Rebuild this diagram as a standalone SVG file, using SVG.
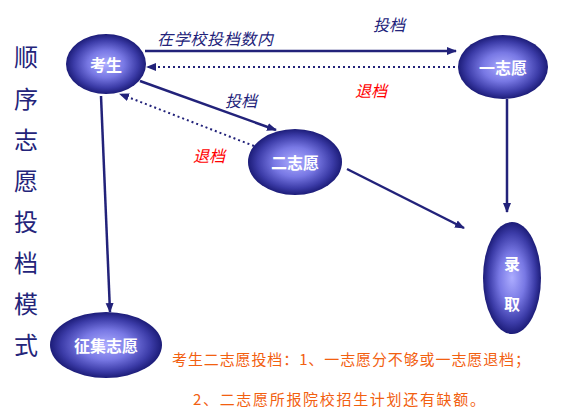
<svg xmlns="http://www.w3.org/2000/svg" width="561" height="417" viewBox="0 0 561 417">
<defs>
<radialGradient id="g" cx="50%" cy="50%" r="50%">
<stop offset="0" stop-color="#acacff"/>
<stop offset="0.45" stop-color="#7878e4"/>
<stop offset="0.8" stop-color="#3c3ca8"/>
<stop offset="1" stop-color="#1c1c78"/>
</radialGradient>
<marker id="ah" viewBox="0 0 10 10" refX="9" refY="5" markerWidth="10" markerHeight="10" markerUnits="userSpaceOnUse" orient="auto">
<path d="M0,1 L10,5 L0,9 Z" fill="#22227a"/>
</marker>
</defs>
<style>
.node{fill:url(#g);}
.nt{fill:#ffffff;font-family:"Noto Sans CJK SC","Noto Sans",sans-serif;font-size:16px;font-weight:bold;text-anchor:middle;dominant-baseline:central;}
.solid{stroke:#22227a;stroke-width:2.5;fill:none;marker-end:url(#ah);}
.dot{stroke:#22227a;stroke-width:2;fill:none;stroke-dasharray:2 3;marker-end:url(#ah);}
.lab{font-family:"Noto Sans CJK SC","Noto Sans",sans-serif;font-size:16px;font-style:italic;}
.title{fill:#24247a;font-family:"Noto Sans CJK SC",sans-serif;font-size:24px;text-anchor:middle;dominant-baseline:central;}
.note{fill:#f26010;font-family:"Noto Sans CJK SC",sans-serif;font-size:15px;}
</style>
<rect width="561" height="417" fill="#ffffff"/>
<g id="title">
<text class="title" x="26" y="55">顺</text>
<text class="title" x="26" y="97">序</text>
<text class="title" x="26" y="138">志</text>
<text class="title" x="26" y="179">愿</text>
<text class="title" x="26" y="220">投</text>
<text class="title" x="26" y="261">档</text>
<text class="title" x="26" y="302">模</text>
<text class="title" x="26" y="343">式</text>
</g>
<g id="connectors">
<line class="solid" x1="145" y1="51" x2="456" y2="51"/>
<line class="dot" x1="455" y1="67" x2="147" y2="67"/>
<line class="solid" x1="140" y1="81" x2="276" y2="130"/>
<line class="dot" x1="254" y1="146" x2="120" y2="94"/>
<line class="solid" x1="347" y1="169" x2="464" y2="228"/>
<line class="solid" x1="507" y1="99" x2="507" y2="212"/>
<line class="solid" x1="101" y1="96" x2="110" y2="312"/>
<text class="lab" x="157" y="45" fill="#22227a" textLength="116">在学校投档数内</text>
<text class="lab" x="373" y="31" fill="#22227a">投档</text>
<text class="lab" x="355" y="97" fill="#ff0000">退档</text>
<text class="lab" x="225" y="107" fill="#22227a">投档</text>
<text class="lab" x="193" y="162" fill="#ff0000">退档</text>
</g>
<g id="kaosheng">
<ellipse class="node" cx="106" cy="64" rx="40" ry="30"/>
<text class="nt" x="106" y="64">考生</text>
</g>
<g id="yizhiyuan">
<ellipse class="node" cx="503" cy="67" rx="45" ry="32"/>
<text class="nt" x="503" y="67">一志愿</text>
</g>
<g id="erzhiyuan">
<ellipse class="node" cx="295" cy="162" rx="47" ry="33"/>
<text class="nt" x="295" y="162">二志愿</text>
</g>
<g id="luqu">
<ellipse class="node" cx="512" cy="278" rx="29" ry="56"/>
<text class="nt" x="512" y="263">录</text>
<text class="nt" x="512" y="303">取</text>
</g>
<g id="zhengji">
<ellipse class="node" cx="106" cy="345" rx="56" ry="33"/>
<text class="nt" x="106" y="345" font-size="17">征集志愿</text>
</g>
<g id="note">
<text class="note" x="172" y="365" textLength="358">考生二志愿投档：1、一志愿分不够或一志愿退档；</text>
<text class="note" x="193" y="405" textLength="292">2、二志愿所报院校招生计划还有缺额。</text>
</g>
</svg>
